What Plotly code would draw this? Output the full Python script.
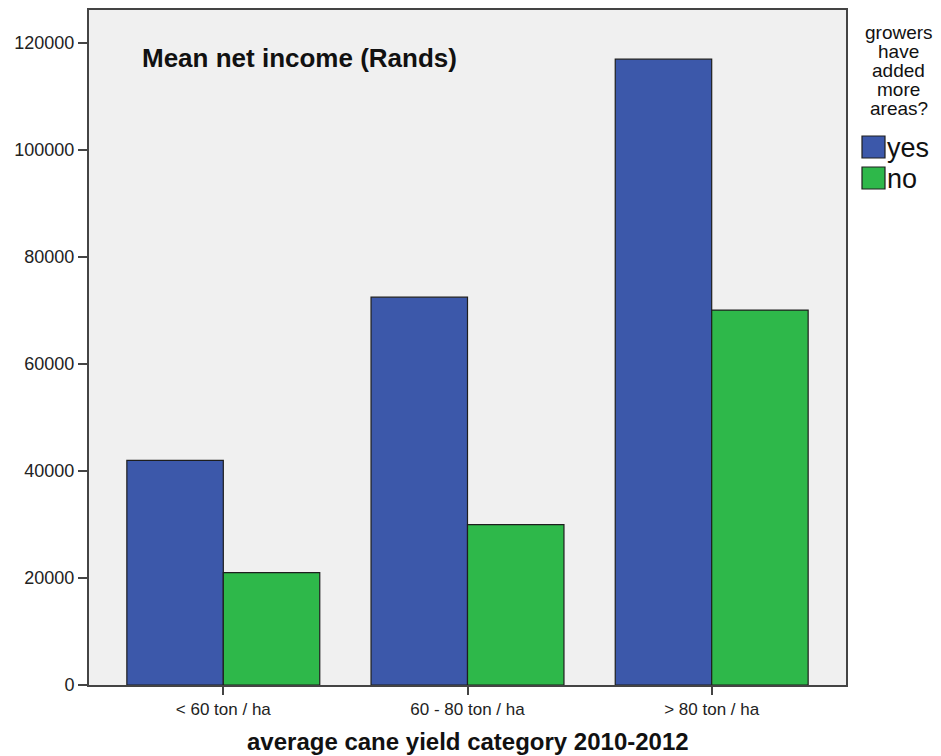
import plotly.graph_objects as go

categories = ["< 60 ton / ha", "60 - 80 ton / ha", "> 80 ton / ha"]
yes_values = [42000, 72500, 117000]
no_values = [21000, 30000, 70100]
series_names = ["yes", "no"]
y_ticks = [0, 20000, 40000, 60000, 80000, 100000, 120000]
legend_title_lines = ["growers", "have", "added", "more", "areas?"]

blue = "#3c58aa"
green = "#2eb84a"
font_family = "Arial, Liberation Sans, sans-serif"

# The page body has an 8px margin, so the figure is made 8px smaller
# and positions below are given in screenshot pixels.
PLOT_L, PLOT_R, PLOT_T, PLOT_B = 89, 846, 10, 685
PW, PH = PLOT_R - PLOT_L, PLOT_B - PLOT_T


def px(sx):
    return (sx - PLOT_L) / PW


def py(sy):
    return (PLOT_B - sy) / PH


fig = go.Figure()
fig.add_trace(go.Bar(x=categories, y=yes_values, name=series_names[0],
                     marker=dict(color=blue, line=dict(color="#1e1e1e", width=1.2)),
                     showlegend=False))
fig.add_trace(go.Bar(x=categories, y=no_values, name=series_names[1],
                     marker=dict(color=green, line=dict(color="#1e1e1e", width=1.2)),
                     showlegend=False))

fig.update_layout(
    width=933, height=748,
    margin=dict(l=PLOT_L - 8, r=933 - (PLOT_R - 8), t=PLOT_T - 8, b=748 - (PLOT_B - 8),
                autoexpand=False),
    paper_bgcolor="white",
    plot_bgcolor="#f0f0f0",
    barmode="group",
    bargap=0.21,
    bargroupgap=0,
    font=dict(family=font_family, color="#222222"),
)

fig.update_xaxes(
    range=[-0.55, 2.55], automargin=False,
    showline=True, linecolor="#444444", linewidth=2, mirror=True,
    ticks="outside", ticklen=8, tickwidth=1.5, tickcolor="#444444",
    tickfont=dict(size=17, color="#222222"),
    showgrid=False,
)
fig.update_yaxes(
    range=[0, 126200], automargin=False,
    tickvals=y_ticks, tickformat="d",
    showline=True, linecolor="#444444", linewidth=2, mirror=True,
    ticks="outside", ticklen=9, tickwidth=1.5, tickcolor="#444444",
    tickfont=dict(size=18, color="#222222"),
    showgrid=False, zeroline=False,
)

# x axis title
fig.add_annotation(text="<b>average cane yield category 2010-2012</b>", xref="paper", yref="paper",
                   x=0.5, y=py(741), xanchor="center", yanchor="middle", showarrow=False,
                   font=dict(size=24, color="#111111"))

# chart title inside plot
fig.add_annotation(text="<b>Mean net income (Rands)</b>", xref="paper", yref="paper",
                   x=px(140), y=py(58), xanchor="left", yanchor="middle",
                   showarrow=False, font=dict(size=26, color="#111111"))

# legend (drawn manually to mimic the reference style)
title_centers = [32, 52, 70, 90, 108]
for line, cy in zip(legend_title_lines, title_centers):
    fig.add_annotation(text=line, xref="paper", yref="paper",
                       x=px(899), y=py(cy), xanchor="center", yanchor="middle",
                       showarrow=False, font=dict(size=19, color="#111111"))

swatches = [(blue, series_names[0], 136), (green, series_names[1], 167)]
for color, label, ytop in swatches:
    fig.add_shape(type="rect", xref="paper", yref="paper",
                  x0=px(862), x1=px(885),
                  y0=py(ytop), y1=py(ytop + 22),
                  fillcolor=color, line=dict(color="#1e1e1e", width=1.2))
    fig.add_annotation(text=label, xref="paper", yref="paper",
                       x=px(885), y=py(ytop + 12), xanchor="left", yanchor="middle",
                       showarrow=False, font=dict(size=27, color="#111111"))

fig.write_html("out.html")
